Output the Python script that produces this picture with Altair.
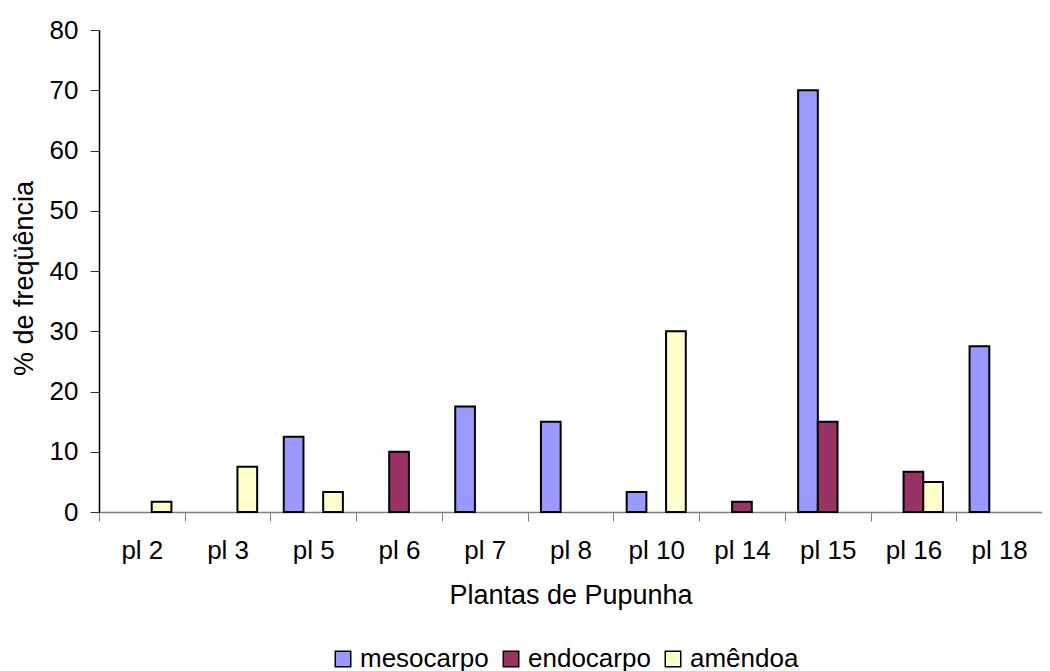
import altair as alt
import pandas as pd

categories = ["pl 2", "pl 3", "pl 5", "pl 6", "pl 7", "pl 8", "pl 10", "pl 14", "pl 15", "pl 16", "pl 18"]
series = ["mesocarpo", "endocarpo", "amêndoa"]
mesocarpo = [0, 0, 12.5, 0, 17.5, 15, 3.3, 0, 70, 0, 27.5]
endocarpo = [0, 0, 0, 10, 0, 0, 0, 1.7, 15, 6.7, 0]
amendoa = [1.7, 7.5, 3.3, 0, 0, 0, 30, 0, 0, 5, 0]
colors = ["#9999FF", "#993366", "#FFFFCC"]
y_ticks = [0, 10, 20, 30, 40, 50, 60, 70, 80]

rows = []
for name, vals in zip(series, [mesocarpo, endocarpo, amendoa]):
    for c, v in zip(categories, vals):
        rows.append({"planta": c, "parte": name, "valor": v})
df = pd.DataFrame(rows)

FONT = "Liberation Sans"

bars = alt.Chart(df).transform_filter("datum.valor > 0").mark_bar(
    stroke="black", strokeWidth=2
).encode(
    x=alt.X(
        "planta:N",
        sort=categories,
        scale=alt.Scale(domain=categories, paddingInner=0, paddingOuter=0),
        axis=alt.Axis(
            title="Plantas de Pupunha",
            labelAngle=0,
            tickBand="extent",
            tickSize=9,
            tickColor="#808080",
            domainColor="#808080",
            domainWidth=1.5,
            labelFont=FONT,
            labelFontSize=26,
            labelColor="black",
            labelPadding=16,
            titleFont=FONT,
            titleFontSize=27,
            titleFontWeight="normal",
            titleColor="black",
            titlePadding=19,
        ),
    ),
    xOffset=alt.XOffset(
        "parte:N",
        sort=series,
        scale=alt.Scale(domain=series, paddingInner=0, paddingOuter=0.675),
    ),
    y=alt.Y(
        "valor:Q",
        scale=alt.Scale(domain=[0, 80], nice=False),
        axis=alt.Axis(
            title="% de freqüência",
            values=y_ticks,
            grid=False,
            tickSize=9,
            tickColor="#333333",
            domainColor="black",
            domainWidth=1.5,
            labelFont=FONT,
            labelFontSize=26,
            labelColor="black",
            labelPadding=12,
            titleFont=FONT,
            titleFontSize=27,
            titleFontWeight="normal",
            titleColor="black",
            titlePadding=11,
            titleY=248,
        ),
    ),
    color=alt.Color(
        "parte:N",
        sort=series,
        scale=alt.Scale(domain=series, range=colors),
        legend=alt.Legend(
            title=None,
            orient="none",
            legendX=231,
            legendY=616,
            direction="horizontal",
            symbolType="square",
            symbolSize=240,
            symbolStrokeColor="black",
            symbolStrokeWidth=1.5,
            symbolOpacity=1,
            labelFont=FONT,
            labelFontSize=26,
            labelColor="black",
            labelOffset=4,
            columnPadding=9,
        ),
    ),
).properties(
    width=943,
    height=482,
    autosize=alt.AutoSizeParams(type="none"),
    padding={"left": 91, "top": 22, "right": 0, "bottom": 172},
).configure_view(stroke=None)

bars.save("out.html", embed_options={"renderer": "svg", "actions": False})
